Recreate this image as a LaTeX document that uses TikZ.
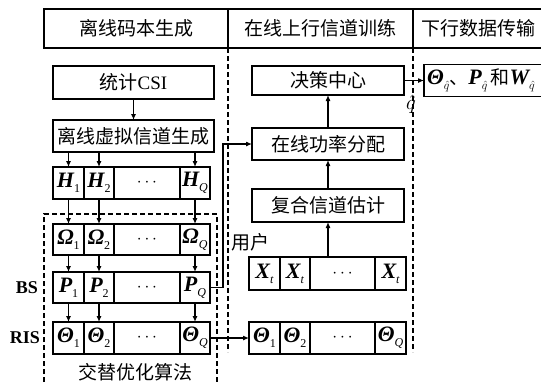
\documentclass[tikz,border=0pt]{standalone}
\usepackage{fontspec}
\setmainfont{Liberation Serif}
\newfontfamily\cjk{Noto Sans CJK SC}
\usetikzlibrary{arrows.meta}
\newcommand{\mybv}[1]{{\fontsize{22}{22}\selectfont\bfseries\itshape #1}}
\newcommand{\mysub}[1]{\raisebox{-0.6ex}{\fontsize{12}{12}\selectfont #1}}
\tikzset{
  box/.style={draw, line width=1.2pt, inner sep=0pt, outer sep=0pt, font=\fontsize{19}{19}\selectfont},
  cell/.style={draw, line width=1.2pt, inner sep=0pt, outer sep=0pt, font=\fontsize{19}{19}\selectfont},
  arr/.style={-{Latex[length=6pt,width=5pt]}, line width=1.1pt},
  dsh/.style={line width=1.1pt, dash pattern=on 5pt off 3pt},
  lbl/.style={inner sep=0pt, font=\fontsize{19}{19}\selectfont},
  side/.style={inner sep=0pt, font=\fontsize{18}{18}\selectfont\bfseries}
}
\begin{document}
\begin{tikzpicture}[x=1pt,y=-1pt]
\useasboundingbox (0,0) rectangle (541,384);
\clip (0,0) rectangle (541,384);
% header
\draw[line width=1.2pt] (545,9) -- (44,9) -- (44,48) -- (545,48);
\draw[line width=1.2pt] (228,9) -- (228,48) (413,9) -- (413,48);
\node[lbl] (t1) at (136,28.5) {\cjk 离线码本生成};
\node[lbl] (t2) at (320.5,28.5) {\cjk 在线上行信道训练};
\node[lbl] (t3) at (478,28.5) {\cjk 下行数据传输};
% dashed separators
\draw[dsh] (228,48) -- (228,352);
\draw[dsh] (413,48) -- (413,352);
\draw[dsh] (44,390) -- (44,214) -- (217,214) -- (217,390);
% left column
\node[box, minimum width=161pt, minimum height=33pt] (csi) at (133.5,82.5) {{\cjk 统计}CSI};
\node[box, minimum width=161pt, minimum height=32pt] (lx) at (133.5,136) {\cjk 离线虚拟信道生成};
% H row
\node[cell, minimum width=31pt, minimum height=32pt] (h1) at (68.5,183) {\mybv{H}\mysub{1}};
\node[cell, minimum width=30pt, minimum height=32pt] (h2) at (99,183) {\mybv{H}\mysub{2}};
\node[cell, minimum width=66pt, minimum height=32pt] (hd) at (147,183) {$\cdots$};
\node[cell, minimum width=30pt, minimum height=32pt] (hq) at (195,183) {\mybv{H}\mysub{\itshape Q}};
% Omega row
\node[cell, minimum width=31pt, minimum height=31pt] (o1) at (68.5,239.5) {\mybv{Ω}\mysub{1}};
\node[cell, minimum width=30pt, minimum height=31pt] (o2) at (99,239.5) {\mybv{Ω}\mysub{2}};
\node[cell, minimum width=66pt, minimum height=31pt] (od) at (147,239.5) {$\cdots$};
\node[cell, minimum width=30pt, minimum height=31pt] (oq) at (195,239.5) {\mybv{Ω}\mysub{\itshape Q}};
% P row
\node[cell, minimum width=31pt, minimum height=31pt] (p1) at (68.5,287.5) {\mybv{P}\mysub{1}};
\node[cell, minimum width=30pt, minimum height=31pt] (p2) at (99,287.5) {\mybv{P}\mysub{2}};
\node[cell, minimum width=66pt, minimum height=31pt] (pd) at (147,287.5) {$\cdots$};
\node[cell, minimum width=30pt, minimum height=31pt] (pq) at (195,287.5) {\mybv{P}\mysub{\itshape Q}};
% Theta row
\node[cell, minimum width=31pt, minimum height=32pt] (th1) at (68.5,338) {\mybv{Θ}\mysub{1}};
\node[cell, minimum width=30pt, minimum height=32pt] (th2) at (99,338) {\mybv{Θ}\mysub{2}};
\node[cell, minimum width=66pt, minimum height=32pt] (thd) at (147,338) {$\cdots$};
\node[cell, minimum width=30pt, minimum height=32pt] (thq) at (195,338) {\mybv{Θ}\mysub{\itshape Q}};
\node[side] (bs) at (27,288) {BS};
\node[side] (ris) at (25,338) {RIS};
\node[lbl] (alt) at (135,372) {\cjk 交替优化算法};
% right column
\node[box, minimum width=152pt, minimum height=29pt] (dc) at (328,80.5) {\cjk 决策中心};
\node[box, minimum width=152pt, minimum height=32pt] (pa) at (328,144) {\cjk 在线功率分配};
\node[box, minimum width=152pt, minimum height=33pt] (fh) at (328,205.5) {\cjk 复合信道估计};
\node[lbl, anchor=west] (user) at (231,242) {\cjk 用户};
% X row
\node[cell, minimum width=31pt, minimum height=33pt] (x1) at (264.5,273.5) {\mybv{X}\mysub{\itshape t}};
\node[cell, minimum width=30pt, minimum height=33pt] (x2) at (295,273.5) {\mybv{X}\mysub{\itshape t}};
\node[cell, minimum width=65pt, minimum height=33pt] (xd) at (342.5,273.5) {$\cdots$};
\node[cell, minimum width=31pt, minimum height=33pt] (xq) at (390.5,273.5) {\mybv{X}\mysub{\itshape t}};
% right Theta row
\node[cell, minimum width=31pt, minimum height=32pt] (r1) at (264.5,338) {\mybv{Θ}\mysub{1}};
\node[cell, minimum width=30pt, minimum height=32pt] (r2) at (295,338) {\mybv{Θ}\mysub{2}};
\node[cell, minimum width=65pt, minimum height=32pt] (rd) at (342.5,338) {$\cdots$};
\node[cell, minimum width=31pt, minimum height=32pt] (rq) at (390.5,338) {\mybv{Θ}\mysub{\itshape Q}};
% output box
\node[box, anchor=west, minimum width=122pt, minimum height=32pt, text width=116pt, inner xsep=3pt, align=left] (out) at (424,80.5) {\mybv{Θ}\mysub{$\hat{q}$}{\cjk 、}\mybv{P}\mysub{$\hat{q}$}\,{\cjk 和}\mybv{W}\mysub{$\hat{q}$}};
\node[inner sep=0pt, font=\fontsize{20}{20}\selectfont] (qh) at (411,104) {$\hat{q}$};
% connectors
\draw[arr] (csi.south) -- (lx.north);
\foreach \c in {h1,h2,hq} \draw[arr] (lx.south -| \c.north) -- (\c.north);
\draw[arr] (h1.south) -- (o1.north);
\draw[arr] (h2.south) -- (o2.north);
\draw[arr] (hq.south) -- (oq.north);
\draw[arr] (o1.south) -- (p1.north);
\draw[arr] (o2.south) -- (p2.north);
\draw[arr] (oq.south) -- (pq.north);
\draw[arr] (p1.south) -- (th1.north);
\draw[arr] (p2.south) -- (th2.north);
\draw[arr] (pq.south) -- (thq.north);
\draw[arr] (pq.east) -- ++(13,0) |- (pa.west);
\draw[arr] (thq.east) -- (r1.west);
\draw[arr] (xd.north -| fh.south) -- (fh.south);
\draw[arr] (fh.north) -- (pa.south);
\draw[arr] (pa.north) -- (dc.south);
\draw[arr] (dc.east) -- (out.west);
\end{tikzpicture}
\end{document}
